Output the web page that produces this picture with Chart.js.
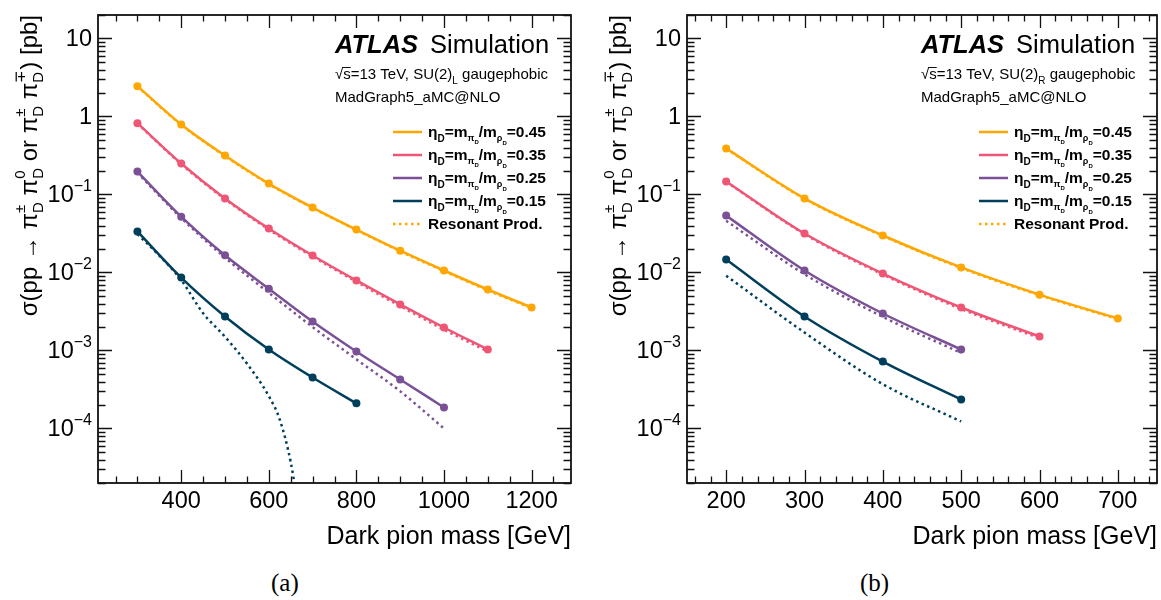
<!DOCTYPE html>
<html>
<head>
<meta charset="utf-8">
<script src="https://cdn.jsdelivr.net/npm/chart.js@4/dist/chart.umd.min.js"></script>
<style>
body { margin: 0; background: #fff; width: 1161px; height: 600px; position: relative; overflow: hidden; }
canvas { position: absolute; top: 0; }
#chartA { left: 0; }
#chartB { left: 589px; }
.cap { position: absolute; top: 569px; font: 25px "Liberation Serif", "DejaVu Serif", serif; color: #000; }
</style>
</head>
<body>
<canvas id="chartA" width="580" height="560"></canvas>
<canvas id="chartB" width="572" height="560"></canvas>
<div class="cap" style="left:271px">(a)</div>
<div class="cap" style="left:860px">(b)</div>
<script>
// (a) SU(2)_L gaugephobic
var massA = [300, 400, 500, 600, 700, 800, 900, 1000, 1100, 1200];
var a045 = [2.45, 0.79, 0.316, 0.138, 0.068, 0.0355, 0.019, 0.0106, 0.00605, 0.00356];
var a035 = [0.82, 0.25, 0.089, 0.0366, 0.0165, 0.0079, 0.0039, 0.00197, 0.00103];
var a025 = [0.197, 0.052, 0.0166, 0.0062, 0.00235, 0.00097, 0.000425, 0.000186];
var a015 = [0.0336, 0.0086, 0.00273, 0.00103, 0.00045, 0.00021];
var aRes045 = [2.42, 0.78, 0.31, 0.136, 0.067, 0.035, 0.0187, 0.0104, 0.0059, 0.0035];
var aRes035 = [0.81, 0.245, 0.087, 0.0355, 0.016, 0.0076, 0.0037, 0.00185, 0.00097];
var aRes025 = [0.19, 0.05, 0.0155, 0.0055, 0.002, 0.00077, 0.0003, 0.0001];
var massARes015 = [300, 350, 400, 450, 500, 550, 600, 625, 650, 675];
var aRes015 = [0.031, 0.0165, 0.008, 0.003, 0.0015, 0.00068, 0.00026, 0.00013, 0.000037, 0.000005];

// (b) SU(2)_R gaugephobic
var massB = [200, 300, 400, 500, 600, 700];
var b045 = [0.39, 0.089, 0.0298, 0.0116, 0.0052, 0.00257];
var b035 = [0.147, 0.0316, 0.0097, 0.00356, 0.00151];
var b025 = [0.0536, 0.0106, 0.00298, 0.00103];
var b015 = [0.0147, 0.00273, 0.00072, 0.000235];
var bRes045 = [0.385, 0.088, 0.0294, 0.0114, 0.0051, 0.00252];
var bRes035 = [0.145, 0.031, 0.0094, 0.0034, 0.00144];
var bRes025 = [0.046, 0.0095, 0.0027, 0.00093];
var bRes015 = [0.0091, 0.0017, 0.00037, 0.000123];

var etaLabels = ['0.45', '0.35', '0.25', '0.15'];
var colors = ['#ffa600', '#ef5675', '#7a5195', '#003f5c'];

var FONT = '"Liberation Sans", Arial, sans-serif';

function fontOf(s) {
    return (s.i ? 'italic ' : '') + (s.b ? 'bold ' : '') + s.s + 'px ' + FONT;
}
function segW(ctx, s) {
    if (s.stack) return Math.max.apply(null, s.stack.map(function(q) { return segW(ctx, q); }));
    ctx.font = fontOf(s);
    return ctx.measureText(s.t).width;
}
function richW(ctx, segs) {
    var w = 0;
    segs.forEach(function(s) { w += segW(ctx, s); });
    return w;
}
function drawRich(ctx, segs, x, y) {
    segs.forEach(function(s) {
        var parts = s.stack || [s];
        parts.forEach(function(q) {
            ctx.font = fontOf(q);
            ctx.fillText(q.t, x, y + (q.dy || 0));
        });
        x += segW(ctx, s);
    });
}

function legendSegs(val) {
    return [
        {t: 'η', s: 15.5, b: 1},
        {t: 'D', s: 10, dy: 5, b: 1},
        {t: '=m', s: 15.5, b: 1},
        {t: 'π', s: 9, dy: 4, b: 1},
        {t: 'D', s: 6, dy: 7, b: 1},
        {t: '/m', s: 15.5, b: 1},
        {t: 'ρ', s: 9, dy: 4, b: 1},
        {t: 'D', s: 6, dy: 8, b: 1},
        {t: '=' + val, s: 15.5, b: 1}
    ];
}

var yTitle = [
    {t: 'σ(pp → π', s: 24},
    {stack: [{t: '±', s: 15, dy: -12}, {t: 'D', s: 15, dy: 6}]},
    {t: ' π', s: 24},
    {stack: [{t: '0', s: 15, dy: -12}, {t: 'D', s: 15, dy: 6}]},
    {t: ' or π', s: 24},
    {stack: [{t: '±', s: 15, dy: -12}, {t: 'D', s: 15, dy: 6}]},
    {t: ' π', s: 24},
    {stack: [{t: '∓', s: 15, dy: -12}, {t: 'D', s: 15, dy: 6}]},
    {t: ') [pb]', s: 24}
];

var deco = {
    id: 'deco',
    afterDraw: function(chart, args, o) {
        var ctx = chart.ctx, a = chart.chartArea;
        var xs = chart.scales.x, ys = chart.scales.y;
        ctx.save();
        ctx.fillStyle = '#000';
        ctx.strokeStyle = '#111';
        ctx.lineWidth = 1.8;
        ctx.strokeRect(a.left, a.top, a.right - a.left, a.bottom - a.top);

        // ticks pointing inwards, mirrored on all sides
        ctx.beginPath();
        ctx.lineWidth = 1.3;
        for (var v = Math.ceil(xs.min / o.xMinor) * o.xMinor; v <= xs.max; v += o.xMinor) {
            var px = Math.round(xs.getPixelForValue(v)) + 0.5;
            var len = v % o.xMajor === 0 ? 13 : 6.5;
            ctx.moveTo(px, a.bottom); ctx.lineTo(px, a.bottom - len);
            ctx.moveTo(px, a.top); ctx.lineTo(px, a.top + len);
        }
        for (var e = -5; e <= 1; e++) {
            for (var k = 1; k <= 9; k++) {
                var yv = k * Math.pow(10, e);
                if (yv < ys.min || yv > ys.max) continue;
                var py = Math.round(ys.getPixelForValue(yv)) + 0.5;
                var l = k === 1 ? 14 : 7.5;
                ctx.moveTo(a.left, py); ctx.lineTo(a.left + l, py);
                ctx.moveTo(a.right, py); ctx.lineTo(a.right - l, py);
            }
        }
        ctx.stroke();

        // x tick labels
        ctx.textAlign = 'center';
        ctx.textBaseline = 'alphabetic';
        ctx.font = '23.5px ' + FONT;
        for (var xv = Math.ceil(xs.min / o.xMajor) * o.xMajor; xv <= xs.max; xv += o.xMajor) {
            ctx.fillText(String(xv), xs.getPixelForValue(xv), a.bottom + 25);
        }

        // y tick labels
        ctx.textAlign = 'left';
        for (var ex = -4; ex <= 1; ex++) {
            var yp = ys.getPixelForValue(Math.pow(10, ex));
            var segs;
            if (ex === 1) segs = [{t: '10', s: 23.5}];
            else if (ex === 0) segs = [{t: '1', s: 23.5}];
            else segs = [{t: '10', s: 23.5}, {t: '−' + (-ex), s: 16, dy: -11}];
            drawRich(ctx, segs, a.left - 6 - richW(ctx, segs), yp + 8);
        }

        // x axis title
        ctx.textAlign = 'right';
        ctx.font = '25px ' + FONT;
        ctx.fillText('Dark pion mass [GeV]', a.right, a.bottom + 61);

        // y axis title, rotated, aligned to the top
        ctx.save();
        ctx.translate(37, a.top);
        ctx.rotate(-Math.PI / 2);
        ctx.textAlign = 'left';
        drawRich(ctx, yTitle, -richW(ctx, yTitle), 0);
        ctx.restore();

        // ATLAS label
        ctx.textAlign = 'left';
        var tx = a.right - 236;
        ctx.font = 'italic bold 25.5px ' + FONT;
        ctx.fillText('ATLAS', tx, a.top + 38);
        var wA = ctx.measureText('ATLAS').width;
        ctx.font = '25.5px ' + FONT;
        ctx.fillText('Simulation', tx + wA + 12, a.top + 38);

        var info = [
            {t: '√', s: 15}, {t: 's', s: 15}, {t: '=13 TeV, SU(2)', s: 15},
            {t: o.group, s: 10, dy: 5}, {t: ' gaugephobic', s: 15}
        ];
        drawRich(ctx, info, tx, a.top + 64);
        var wR = segW(ctx, info[0]), wS = segW(ctx, info[1]);
        ctx.beginPath();
        ctx.lineWidth = 1;
        ctx.moveTo(tx + wR - 1, a.top + 64 - 11.5);
        ctx.lineTo(tx + wR + wS, a.top + 64 - 11.5);
        ctx.stroke();
        ctx.font = '15px ' + FONT;
        ctx.fillText('MadGraph5_aMC@NLO', tx, a.top + 87);

        // legend
        var lx0 = a.right - 178, lx1 = a.right - 149, ltx = a.right - 143;
        for (var i = 0; i < 5; i++) {
            var ry = a.top + 117 + 23 * i;
            ctx.beginPath();
            ctx.lineWidth = 2.5;
            ctx.strokeStyle = i < 4 ? colors[i] : colors[0];
            ctx.setLineDash(i < 4 ? [] : [2.5, 3.5]);
            ctx.moveTo(lx0, ry); ctx.lineTo(lx1, ry);
            ctx.stroke();
            ctx.setLineDash([]);
            ctx.fillStyle = '#000';
            if (i < 4) drawRich(ctx, legendSegs(etaLabels[i]), ltx, ry + 5);
            else {
                ctx.font = 'bold 15.5px ' + FONT;
                ctx.fillText('Resonant Prod.', ltx, ry + 5);
            }
        }
        ctx.restore();
    }
};

function pts(mass, vals) {
    return vals.map(function(v, i) { return {x: mass[i], y: v}; });
}
function solid(mass, vals, c) {
    return {data: pts(mass, vals), borderColor: c, backgroundColor: c, borderWidth: 2.5,
            pointRadius: 4, pointBorderWidth: 0, pointHoverRadius: 4, cubicInterpolationMode: 'monotone'};
}
function dotted(mass, vals, c) {
    return {data: pts(mass, vals), borderColor: c, borderWidth: 2.5, borderDash: [2.5, 3.5],
            pointRadius: 0, cubicInterpolationMode: 'monotone'};
}

function makeChart(id, datasets, xmin, xmax, padRight, deco_opts) {
    return new Chart(document.getElementById(id), {
        type: 'line',
        data: {datasets: datasets},
        options: {
            responsive: false,
            animation: false,
            layout: {padding: {top: 15, right: padRight, left: 0, bottom: 0}},
            plugins: {legend: {display: false}, tooltip: {enabled: false}, deco: deco_opts},
            scales: {
                x: {type: 'linear', min: xmin, max: xmax,
                    grid: {display: false}, border: {display: false}, ticks: {display: false},
                    afterFit: function(s) { s.height = 77; }},
                y: {type: 'logarithmic', min: 2e-5, max: 20,
                    grid: {display: false}, border: {display: false}, ticks: {display: false},
                    afterFit: function(s) { s.width = 98; }}
            }
        },
        plugins: [deco]
    });
}

makeChart('chartA', [
    dotted(massA, aRes045, colors[0]),
    dotted(massA, aRes035, colors[1]),
    dotted(massA, aRes025, colors[2]),
    dotted(massARes015, aRes015, colors[3]),
    solid(massA, a045, colors[0]),
    solid(massA, a035, colors[1]),
    solid(massA, a025, colors[2]),
    solid(massA, a015, colors[3])
], 210, 1290, 9, {xMajor: 200, xMinor: 50, group: 'L'});

makeChart('chartB', [
    dotted(massB, bRes045, colors[0]),
    dotted(massB, bRes035, colors[1]),
    dotted(massB, bRes025, colors[2]),
    dotted(massB, bRes015, colors[3]),
    solid(massB, b045, colors[0]),
    solid(massB, b035, colors[1]),
    solid(massB, b025, colors[2]),
    solid(massB, b015, colors[3])
], 150, 750, 2, {xMajor: 100, xMinor: 20, group: 'R'});
</script>
</body>
</html>
